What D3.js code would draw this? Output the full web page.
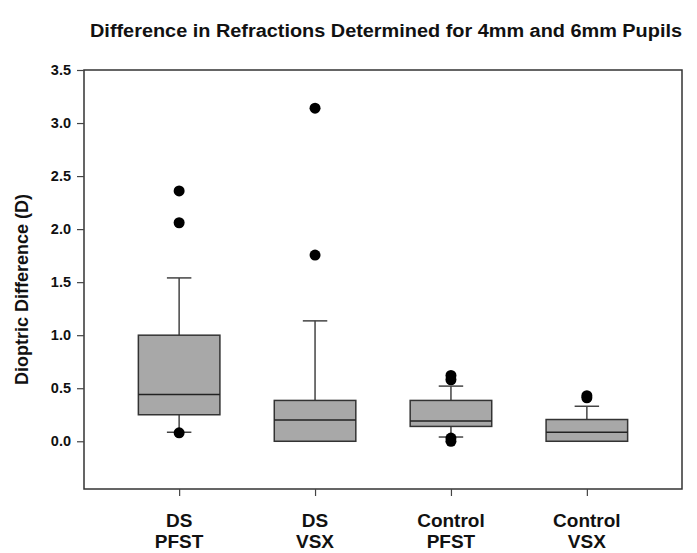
<html>
<head>
<title> Box plot </title>
<script src="https://d3js.org/d3.v7.min.js"></script>
<style>
body { margin: 0; background: white; }
text { font-family: "Liberation Sans", Arial, sans-serif; font-weight: bold; fill: #111; }
</style>
</head>
<body>
<svg id="boxplot" width="697" height="553"></svg>
<script>

// data
const groups = [["DS", "PFST"], ["DS", "VSX"], ["Control", "PFST"], ["Control", "VSX"]];
const q1 = [0.25, 0.0, 0.14, 0.0];
const medians = [0.44, 0.20, 0.19, 0.085];
const q3 = [1.0, 0.385, 0.385, 0.205];
const whiskerLow = [0.085, 0.0, 0.04, 0.0];
const whiskerHigh = [1.54, 1.135, 0.52, 0.33];
const outliers = [[2.36, 2.06, 0.08], [3.14, 1.755], [0.62, 0.58, 0.03, 0.0], [0.43, 0.41]];
const yTicks = [0, 0.5, 1.0, 1.5, 2.0, 2.5, 3.0, 3.5];

const svg = d3.select("svg#boxplot");
const margin = {top: 70, left: 84, right: 15, bottom: 64};
const width = +svg.attr("width"), height = +svg.attr("height");
const chartWidth = width - margin.left - margin.right;
const chartHeight = height - margin.top - margin.bottom;

const xScale = d3.scaleLinear().domain([0.3, 4.7]).range([0, chartWidth]);
const yScale = d3.scaleLinear().domain([-0.45, 3.5]).range([chartHeight, 0]);

const chart = svg.append("g").attr("transform", `translate(${margin.left},${margin.top})`);

// title
svg.append("text")
  .attr("x", 386).attr("y", 37)
  .attr("text-anchor", "middle")
  .attr("font-size", "18px")
  .attr("textLength", 592).attr("lengthAdjust", "spacingAndGlyphs")
  .text("Difference in Refractions Determined for 4mm and 6mm Pupils");

// frame
chart.append("rect")
  .attr("x", 0).attr("y", 0)
  .attr("width", chartWidth).attr("height", chartHeight)
  .attr("fill", "none").attr("stroke", "#333").attr("stroke-width", 1.5);

// y axis
let leftAxis = d3.axisLeft(yScale).tickValues(yTicks).tickSize(7).tickPadding(6)
                 .tickFormat(d3.format(".1f"));
let yAxis = chart.append("g").attr("class", "y axis").call(leftAxis)
  .attr("font-size", null).attr("font-family", null);
yAxis.select(".domain").remove();
yAxis.selectAll("line").attr("stroke", "#444").attr("stroke-width", 1.2);
yAxis.selectAll("text").style("font-size", "14.5px").attr("fill", "#111");

// x axis
let bottomAxis = d3.axisBottom(xScale).tickValues([1, 2, 3, 4]).tickSize(7).tickFormat("");
let xAxis = chart.append("g").attr("class", "x axis")
  .attr("transform", `translate(0,${chartHeight})`).call(bottomAxis);
xAxis.select(".domain").remove();
xAxis.selectAll("line").attr("stroke", "#444").attr("stroke-width", 1.2);

groups.forEach((g, i) => {
  let t = chart.append("text")
    .attr("text-anchor", "middle")
    .style("font-size", "19px")
    .attr("x", xScale(i + 1));
  t.append("tspan").attr("x", xScale(i + 1)).attr("y", chartHeight + 38).text(g[0]);
  t.append("tspan").attr("x", xScale(i + 1)).attr("y", chartHeight + 59).text(g[1]);
});

// y label
svg.append("text")
  .attr("transform", `translate(28,${margin.top + yScale(1.43)}) rotate(-90)`)
  .attr("text-anchor", "middle")
  .style("font-size", "18px")
  .text("Dioptric Difference (D)");

// boxes
const boxW = 0.6, capW = 0.18;
groups.forEach((g, i) => {
  const c = i + 1;
  // whiskers
  chart.append("line")
    .attr("x1", xScale(c)).attr("x2", xScale(c))
    .attr("y1", yScale(q3[i])).attr("y2", yScale(whiskerHigh[i]))
    .attr("stroke", "#444").attr("stroke-width", 1.5);
  chart.append("line")
    .attr("x1", xScale(c - capW / 2)).attr("x2", xScale(c + capW / 2))
    .attr("y1", yScale(whiskerHigh[i])).attr("y2", yScale(whiskerHigh[i]))
    .attr("stroke", "#444").attr("stroke-width", 1.5);
  if (whiskerLow[i] < q1[i]) {
    chart.append("line")
      .attr("x1", xScale(c)).attr("x2", xScale(c))
      .attr("y1", yScale(q1[i])).attr("y2", yScale(whiskerLow[i]))
      .attr("stroke", "#444").attr("stroke-width", 1.5);
    chart.append("line")
      .attr("x1", xScale(c - capW / 2)).attr("x2", xScale(c + capW / 2))
      .attr("y1", yScale(whiskerLow[i])).attr("y2", yScale(whiskerLow[i]))
      .attr("stroke", "#444").attr("stroke-width", 1.5);
  }
  chart.append("rect")
    .attr("x", xScale(c - boxW / 2))
    .attr("y", yScale(q3[i]))
    .attr("width", xScale(c + boxW / 2) - xScale(c - boxW / 2))
    .attr("height", yScale(q1[i]) - yScale(q3[i]))
    .attr("fill", "#a8a8a8").attr("stroke", "#333").attr("stroke-width", 1.5);
  chart.append("line")
    .attr("x1", xScale(c - boxW / 2)).attr("x2", xScale(c + boxW / 2))
    .attr("y1", yScale(medians[i])).attr("y2", yScale(medians[i]))
    .attr("stroke", "#222").attr("stroke-width", 1.5);
  outliers[i].forEach(v => {
    chart.append("circle")
      .attr("cx", xScale(c)).attr("cy", yScale(v)).attr("r", 5.5)
      .attr("fill", "#000");
  });
});

</script>
</body>
</html>
